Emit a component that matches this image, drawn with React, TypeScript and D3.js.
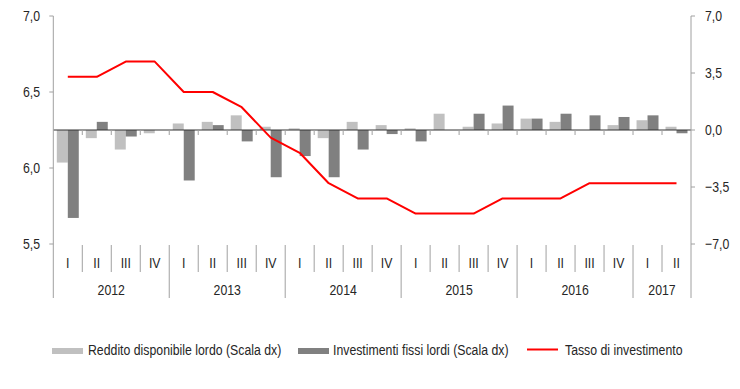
import React, { useEffect, useRef } from 'react';
import * as d3 from 'd3';

const years = ['2012', '2013', '2014', '2015', '2016', '2017'];
const quarterNames = ['I', 'II', 'III', 'IV'];
// 2012 Q1 .. 2017 Q2
const periods = years.flatMap((y) => quarterNames.map((q) => `${y}-${q}`)).slice(0, 22);

const reddito = [-2.0, -0.5, -1.2, -0.2, 0.4, 0.5, 0.9, 0.2, 0.1, -0.5, 0.5, 0.3, 0.1, 1.0, 0.2, 0.4, 0.7, 0.5, 0.0, 0.3, 0.6, 0.2];
const investimenti = [-5.4, 0.5, -0.4, 0.0, -3.1, 0.3, -0.7, -2.9, -1.6, -2.9, -1.2, -0.25, -0.7, 0.0, 1.0, 1.5, 0.7, 1.0, 0.9, 0.8, 0.9, -0.2];
const tasso = [6.6, 6.6, 6.7, 6.7, 6.5, 6.5, 6.4, 6.2, 6.1, 5.9, 5.8, 5.8, 5.7, 5.7, 5.7, 5.8, 5.8, 5.8, 5.9, 5.9, 5.9, 5.9];

const leftTicks = [5.5, 6.0, 6.5, 7.0];
const rightTicks = [-7.0, -3.5, 0.0, 3.5, 7.0];

const seriesNames = ['Reddito disponibile lordo (Scala dx)', 'Investimenti fissi lordi (Scala dx)', 'Tasso di investimento'];
const colors = ['#c0c0c0', '#808080', '#ff0000'];

// no Arial Narrow available: squeeze Liberation Sans horizontally
const FONT = "'Liberation Sans', Arial, sans-serif";
const SQUEEZE = 0.82;

const App: React.FC = () => {
  const svgRef = useRef<SVGSVGElement | null>(null);

  useEffect(() => {
    if (!svgRef.current) return;
    const width = 740;
    const height = 389;
    const left = 53.3;
    const right = 691;
    const top = 16;
    const bottom = 244;

    const svg = d3.select(svgRef.current).attr('width', width).attr('height', height);
    svg.selectAll('*').remove();

    const locale = d3.formatLocale({ decimal: ',', thousands: '.', grouping: [3], currency: ['€', ''] });
    const fmt = locale.format('.1f');

    const x = d3.scaleBand<string>().domain(periods).range([left, right]).padding(0);
    const x1 = d3.scaleBand<string>().domain(['r', 'i']).range([0, x.bandwidth()]).paddingInner(0).paddingOuter(0.32);
    const yL = d3.scaleLinear().domain([5.5, 7]).range([bottom, top]);
    const yR = d3.scaleLinear().domain([-7, 7]).range([bottom, top]);

    const textColor = '#262626';
    const axisColor = '#a0a0a0';

    const label = (
      g: d3.Selection<SVGGElement, unknown, null, undefined>,
      tx: number,
      ty: number,
      txt: string,
      anchor: string
    ) => {
      g.append('text')
        .attr('transform', `translate(${tx},${ty}) scale(${SQUEEZE},1)`)
        .attr('dy', '0.35em')
        .attr('text-anchor', anchor)
        .style('font-family', FONT)
        .style('font-size', '15px')
        .attr('fill', textColor)
        .text(txt);
    };

    // bars
    const bars = [
      { key: 'r', values: reddito, color: colors[0] },
      { key: 'i', values: investimenti, color: colors[1] },
    ];
    bars.forEach((s) => {
      svg
        .append('g')
        .selectAll('rect')
        .data(s.values)
        .enter()
        .append('rect')
        .attr('x', (_d, i) => (x(periods[i]) as number) + (x1(s.key) as number))
        .attr('width', x1.bandwidth())
        .attr('y', (d) => Math.min(yR(d), yR(0)))
        .attr('height', (d) => Math.abs(yR(d) - yR(0)))
        .attr('fill', s.color);
    });

    // zero line with ticks
    svg
      .append('line')
      .attr('x1', left)
      .attr('x2', right)
      .attr('y1', yR(0))
      .attr('y2', yR(0))
      .attr('stroke', '#333')
      .attr('stroke-width', 1);
    svg
      .append('g')
      .selectAll('line')
      .data(periods.slice(1))
      .enter()
      .append('line')
      .attr('x1', (d) => x(d) as number)
      .attr('x2', (d) => x(d) as number)
      .attr('y1', yR(0))
      .attr('y2', yR(0) + 5)
      .attr('stroke', axisColor);

    // line
    const line = d3
      .line<number>()
      .x((_d, i) => (x(periods[i]) as number) + x.bandwidth() / 2)
      .y((d) => yL(d));
    svg
      .append('path')
      .datum(tasso)
      .attr('d', line)
      .attr('fill', 'none')
      .attr('stroke', colors[2])
      .attr('stroke-width', 2)
      .attr('stroke-linejoin', 'round');

    // left axis
    const axisBottom = 298;
    svg.append('line').attr('x1', left).attr('x2', left).attr('y1', top).attr('y2', axisBottom).attr('stroke', axisColor);
    const gl = svg.append('g');
    leftTicks.forEach((t) => {
      gl.append('line').attr('x1', left - 4).attr('x2', left).attr('y1', yL(t)).attr('y2', yL(t)).attr('stroke', axisColor);
      label(gl, 40, yL(t), fmt(t), 'end');
    });

    // right axis
    svg.append('line').attr('x1', right).attr('x2', right).attr('y1', top).attr('y2', axisBottom).attr('stroke', axisColor);
    const gr = svg.append('g');
    rightTicks.forEach((t) => {
      gr.append('line').attr('x1', right).attr('x2', right + 4).attr('y1', yR(t)).attr('y2', yR(t)).attr('stroke', axisColor);
      label(gr, 705, yR(t), fmt(t), 'start');
    });

    // category axis
    const gx = svg.append('g');
    periods.forEach((p, i) => {
      const q = p.split('-')[1];
      if (i > 0) {
        const isYear = q === 'I';
        gx.append('line')
          .attr('x1', x(p) as number)
          .attr('x2', x(p) as number)
          .attr('y1', bottom + 1)
          .attr('y2', isYear ? axisBottom : 272)
          .attr('stroke', axisColor);
      }
      label(gx, (x(p) as number) + x.bandwidth() / 2, 263, q, 'middle');
    });
    years.forEach((y) => {
      const ps = periods.filter((p) => p.startsWith(y));
      const x0 = x(ps[0]) as number;
      const xe = (x(ps[ps.length - 1]) as number) + x.bandwidth();
      label(gx, (x0 + xe) / 2, 290, y, 'middle');
    });

    // legend
    const legend = svg.append('g');
    const items = [
      { sx: 52, tx: 88, kind: 'rect' },
      { sx: 298, tx: 333, kind: 'rect' },
      { sx: 527, tx: 565, kind: 'line' },
    ];
    items.forEach((it, i) => {
      if (it.kind === 'rect') {
        legend.append('rect').attr('x', it.sx).attr('y', 348).attr('width', 31).attr('height', 6).attr('fill', colors[i]);
      } else {
        legend.append('line').attr('x1', it.sx).attr('x2', it.sx + 31).attr('y1', 349.5).attr('y2', 349.5).attr('stroke', colors[i]).attr('stroke-width', 2);
      }
      label(legend, it.tx, 350, seriesNames[i], 'start');
    });
  }, []);

  return <svg ref={svgRef} style={{ position: 'absolute', left: 0, top: 0 }}></svg>;
};

export default App;
